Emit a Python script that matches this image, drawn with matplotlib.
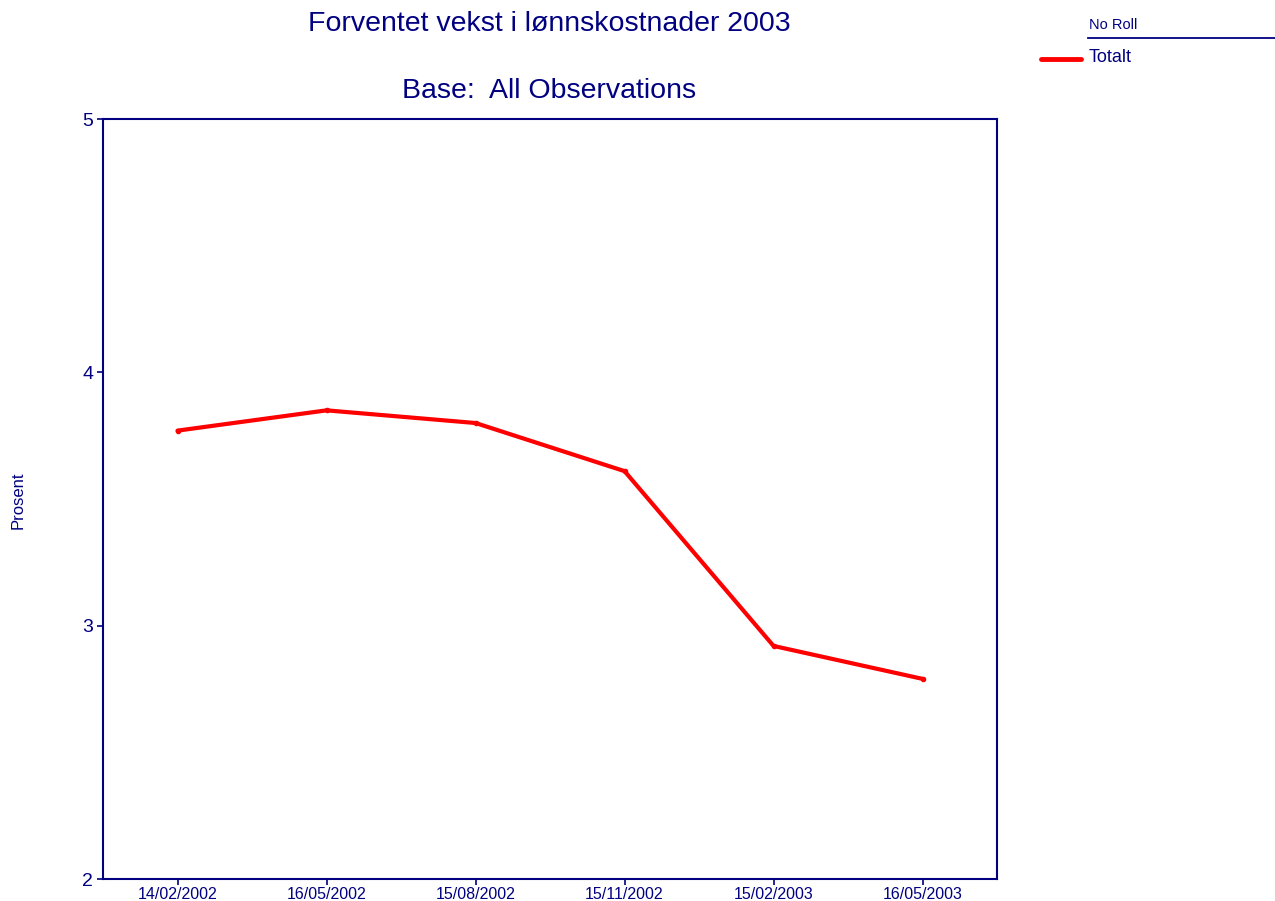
import numpy as np
import matplotlib
matplotlib.use("Agg")
import matplotlib.pyplot as plt

plt.rcParams['font.family'] = ['Liberation Sans', 'DejaVu Sans']

# Data
dates = ["14/02/2002", "16/05/2002", "15/08/2002", "15/11/2002", "15/02/2003", "16/05/2003"]
totalt = [3.77, 3.85, 3.80, 3.61, 2.92, 2.79]

navy = "#000080"

fig = plt.figure(figsize=(12.75, 9.01), dpi=100)
ax = fig.add_axes([0.0808, 0.0244, 0.7012, 0.8435])

x = np.arange(len(dates))
ax.plot(x, totalt, color="#ff0000", linewidth=3, marker="o", markersize=3,
        solid_joinstyle="round", solid_capstyle="round")

ax.set_xlim(-0.5, len(dates) - 0.5)
ax.set_ylim(2, 5)
ax.set_xticks(x)
ax.set_xticklabels(dates, fontsize=11.5, color=navy)
ax.set_yticks([2, 3, 4, 5])
ax.set_yticklabels(["2", "3", "4", "5"], fontsize=14, color=navy)
ax.tick_params(axis="both", colors=navy, length=4, width=1.2)
ax.tick_params(axis="x", pad=2)
ax.tick_params(axis="y", pad=3)
for sp in ax.spines.values():
    sp.set_color(navy)
    sp.set_linewidth(1.5)

fig.text(0.0145, 0.445, "Prosent", rotation=90, fontsize=12, color=navy,
         ha="center", va="center")

# Titles
fig.text(0.431, 0.973, "Forventet vekst i lønnskostnader 2003", fontsize=20.5,
         color=navy, ha="center", va="center")
fig.text(0.431, 0.899, "Base:  All Observations", fontsize=20.5,
         color=navy, ha="center", va="center")

# Legend drawn by hand
fig.text(0.854, 0.972, "No Roll", fontsize=10.5, color=navy, ha="left", va="center")
fig.add_artist(plt.Line2D([0.853, 1.0], [0.958, 0.958], color=navy, linewidth=1.3,
                          transform=fig.transFigure))
fig.add_artist(plt.Line2D([0.8165, 0.8480], [0.9345, 0.9345], color="#ff0000", linewidth=3.5,
                          solid_capstyle="round", transform=fig.transFigure))
fig.text(0.854, 0.936, "Totalt", fontsize=13, color=navy, ha="left", va="center")

fig.savefig("out.png", dpi=100)
